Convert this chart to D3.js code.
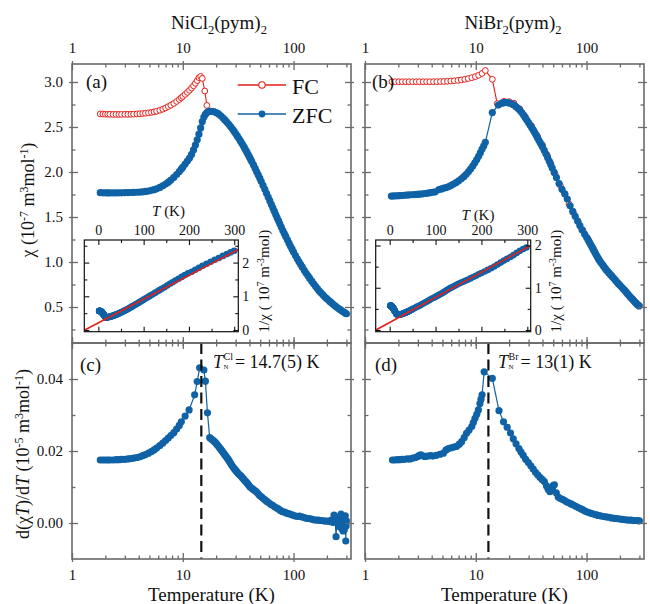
<!DOCTYPE html>
<html>
<head>
<meta charset="utf-8">
<script src="https://cdn.jsdelivr.net/npm/d3@7"></script>
<style>
  body { margin: 0; background: #fff; }
  text { font-family: "Liberation Serif", "Times New Roman", serif; fill: #111; }
</style>
</head>
<body>
<script>
// ---------- NiCl2(pym)2 : susceptibility (10^-7 m^3/mol) ----------
const tempZfcCl = [1.8,1.9,2.0,2.1,2.2,2.35,2.5,2.65,2.8,3.0,3.2,3.4,3.6,3.85,4.1,4.35,4.6,4.9,5.2,5.5,5.8,6.2,6.6,7.0,7.4,7.8,8.3,8.8,9.3,9.7,
  10.0,10.5,11.0,11.5,12.0,12.5,13.0,13.5,14.0,14.5,15.0,15.5,16.0,16.5,17.0,17.5,18.0,
  19,20,21,22,23,24,25,26,27,28,29,30,31,32,33,34,35,36,37,38,39,40,41,42,43.5,45,46.5,48,49.5,51,
  53,55,57,59,61,63,65,67,69,71,73,75,77.5,80,82.5,85,88,91,94,97,100,104,108,112,116,120,125,130,135,140,
  146,152,158,164,170,177,184,191,198,206,214,222,230,239,248,257,266,275,284,292,300];
const chiZfcCl = [1.770,1.769,1.769,1.768,1.768,1.768,1.768,1.769,1.769,1.770,1.771,1.772,1.773,1.775,1.777,1.780,1.784,1.789,1.796,1.804,
  1.814,1.829,1.846,1.866,1.887,1.910,1.940,1.972,2.005,2.032,
  2.054,2.088,2.122,2.155,2.195,2.245,2.300,2.358,2.420,2.490,2.560,2.610,2.640,2.660,2.670,2.675,2.675,
  2.670,2.660,2.645,2.625,2.602,2.579,2.555,2.530,2.505,2.480,2.454,2.428,2.401,2.375,2.348,2.322,2.296,2.270,2.243,2.217,2.191,2.165,2.140,2.115,
  2.077,2.040,2.003,1.967,1.932,1.897,
  1.852,1.807,1.764,1.722,1.681,1.640,1.602,1.565,1.528,1.493,1.460,1.428,1.389,1.350,1.316,1.284,1.246,1.209,1.175,1.142,1.110,
  1.072,1.036,1.003,0.972,0.943,0.908,0.875,0.846,0.818,
  0.787,0.757,0.730,0.705,0.680,0.657,0.635,0.614,0.595,0.578,0.559,0.542,0.525,0.509,0.494,0.480,0.468,0.455,0.444,0.434,0.425];
const tempFcCl = [1.8,1.9,2.0,2.1,2.2,2.35,2.5,2.65,2.8,3.0,3.2,3.4,3.6,3.85,4.1,4.35,4.6,4.9,5.2,5.5,5.8,6.2,6.6,7.0,7.4,7.8,8.3,8.8,9.3,9.7,
  10.0,10.5,11.0,11.5,12.0,12.5,13.0,13.5,14.0,14.5,15.0,15.8,16.5];
const chiFcCl = [2.645,2.644,2.643,2.642,2.641,2.640,2.640,2.640,2.640,2.641,2.641,2.642,2.643,2.645,2.647,2.650,2.653,2.657,2.662,2.668,
  2.675,2.686,2.698,2.712,2.727,2.742,2.762,2.784,2.806,2.825,
  2.840,2.862,2.885,2.908,2.932,2.958,2.986,3.016,3.048,3.062,3.040,2.900,2.740];

// ---------- NiBr2(pym)2 : susceptibility (10^-7 m^3/mol) ----------
const tempZfcBr = [1.73,1.82,1.92,2.02,2.13,2.25,2.38,2.5,2.65,2.8,2.95,3.1,3.3,3.5,3.7,3.9,4.1,4.3,
  4.65,4.9,5.15,5.4,5.7,6.0,6.3,6.65,7.0,7.4,7.8,8.2,8.6,9.0,9.4,9.8,10.2,10.6,11.0,11.4,11.8,12.2,
  14.1,16.0,17.2,18.0,18.6,19.3,
  20,21,22,23,24,25,26,27,28,29,30,31,32,33,34,35,36,37,38,39,40,
  41.5,43,44.5,46,47.5,49,51,53.5,56.5,60,63.5,67,71,75,79,83,87,91,96,100,
  103,106,109,112,115,118,121,124,127,130,134,138,142,146,150,155,160,165,170,176,182,188,194,200,
  207,214,221,228,235,242,249,256,263,270,277,284,291,298];
const chiZfcBr = [1.733,1.734,1.736,1.737,1.739,1.741,1.743,1.745,1.747,1.749,1.751,1.754,1.757,1.761,1.765,1.770,1.775,1.780,
  1.805,1.812,1.820,1.828,1.838,1.852,1.866,1.883,1.902,1.925,1.948,1.975,2.005,2.035,2.068,2.102,2.138,2.175,2.215,2.255,2.290,2.330,
  2.660,2.744,2.765,2.770,2.772,2.770,
  2.766,2.757,2.745,2.727,2.707,2.685,2.660,2.632,2.603,2.574,2.546,2.519,2.493,2.468,2.440,2.412,2.383,2.355,2.330,2.305,2.280,
  2.240,2.200,2.162,2.122,2.083,2.044,1.995,1.938,1.872,1.808,1.757,1.700,1.625,1.562,1.508,1.455,1.405,1.357,1.310,1.275,
  1.247,1.220,1.193,1.167,1.140,1.115,1.090,1.066,1.043,1.020,0.998,0.977,0.956,0.935,0.915,0.895,0.876,0.858,0.840,0.819,0.798,0.778,0.758,0.741,
  0.722,0.703,0.685,0.665,0.645,0.627,0.609,0.594,0.579,0.564,0.548,0.534,0.522,0.512];
const tempFcBr = [1.75,1.88,2.02,2.17,2.33,2.5,2.69,2.9,3.1,3.35,3.6,3.85,4.15,4.45,4.8,5.15,5.55,5.95,6.4,6.9,7.4,7.95,8.55,9.2,9.9,10.6,11.4,12.2,
  14.1,15.6,18,20,22.1,25,28,32,36,40,44,47.4,52,58,64,69.4,76,84,93,103,115,130,148,170,195,225,260,300];
const chiFcBr = [3.003,3.003,3.003,3.003,3.003,3.003,3.003,3.003,3.003,3.003,3.003,3.003,3.003,3.004,3.005,3.006,3.008,3.011,3.014,3.018,
  3.023,3.030,3.038,3.048,3.060,3.075,3.095,3.128,
  3.030,2.760,2.785,2.782,2.765,2.700,2.615,2.510,2.400,2.300,2.190,2.100,1.980,1.850,1.755,1.645,1.550,1.450,1.350,1.260,1.150,1.030,
  0.930,0.845,0.760,0.675,0.590,0.515];

// ---------- d(chi T)/dT (10^-5 m^3/mol) ----------
const tempDerivCl = [1.8,1.9,2.0,2.1,2.2,2.35,2.5,2.65,2.8,3.0,3.2,3.4,3.6,3.85,4.1,4.35,4.6,4.9,5.2,5.5,5.8,6.2,6.6,7.0,7.4,7.8,8.3,8.8,9.3,9.7,
  10.5,11.4,12.8,13.5,14.2,15.5,16.0,16.7,
  17.5,18,18.5,19,19.5,20,20.5,21,21.5,22,22.5,23,23.5,24,24.6,25.2,25.8,26.4,27,27.6,28.3,29,29.7,30.4,31.2,32,32.8,33.6,34.5,35.4,
  36.3,37.3,38.3,39.4,40.5,41.7,43,44.3,45.7,47.1,48.5,50,51.6,53.3,55.3,57.5,59.8,62.2,64.7,67.3,
  70,73,76,79,82.5,86,90,94,98,103,108,113,119,125,131,138,145,152,160,168,
  177,186,195,205,212,220,226,232,238,242,246,250,255,259,263,268,272,276,280,284,287,290,293,296,298,300];
const derivCl = [0.0175,0.0175,0.0175,0.0175,0.0175,0.0175,0.0176,0.0176,0.0177,0.0177,0.0178,0.0179,0.0180,0.0182,0.0184,0.0187,0.0190,0.0194,0.0198,0.0203,
  0.0208,0.0215,0.0222,0.0229,0.0236,0.0243,0.0251,0.0261,0.0271,0.0281,
  0.0297,0.0314,0.0356,0.0393,0.0431,0.0425,0.0394,0.0306,
  0.0237,0.0234,0.0231,0.0228,0.0225,0.0221,0.0217,0.0213,0.0209,0.0205,0.0201,0.0197,0.0193,0.0189,0.0185,0.0180,0.0176,0.0171,0.0166,0.0161,
  0.0156,0.0152,0.0148,0.0144,0.0140,0.0136,0.0133,0.0130,0.0126,0.0122,0.0118,0.0114,0.0110,0.0105,0.0100,0.0097,0.0094,0.0091,0.0088,0.0084,
  0.0079,0.0075,0.0072,0.0068,0.0064,0.0060,0.0056,0.0052,0.0049,0.0045,0.0042,0.0039,0.0035,0.0032,0.0030,0.0028,0.0026,0.0024,0.0022,0.0020,
  0.0018,0.0019,0.0017,0.0015,0.0013,0.0012,0.0011,0.0009,0.0008,0.0008,
  0.0007,0.0006,0.0005,0.0005,0.0004,0.0008,0.0002,0.0022,0.0003,-0.0038,0.0012,0.0000,0.0016,-0.0010,0.0003,0.0025,-0.0015,0.0004,-0.0022,0.0010,
  -0.0019,0.0002,0.0020,-0.0050,-0.0008,0.0006];
const tempDerivBr = [1.77,1.85,1.95,2.05,2.15,2.25,2.4,2.55,2.7,2.85,3.0,3.1,3.2,3.35,3.5,3.7,3.9,4.1,4.4,4.75,
  5.1,5.4,5.65,6.0,6.35,6.72,7.1,7.45,7.85,8.25,8.7,9.2,9.5,9.84,10.2,10.55,10.9,11.15,11.4,11.9,
  14.1,16.2,17.8,19.2,20.6,21.8,23.1,24.5,25.6,26.8,28.2,29.8,31.4,33,34.6,36.2,37.9,39.7,41.6,43.5,
  45,46.7,48.5,50,51.2,53.3,55.5,58,60.5,63,66,69,72.5,76,80,84,88,92,96,100,
  105,110,115,121,127,134,142,150,159,168,178,189,200,212,225,238,252,266,280,292,300];
const derivBr = [0.0175,0.0175,0.0176,0.0176,0.0177,0.0177,0.0178,0.0178,0.0180,0.0182,0.0185,0.0188,0.0189,0.0186,0.0185,0.0186,0.0187,0.0186,0.0188,0.0191,
  0.0194,0.0203,0.0207,0.0209,0.0211,0.0213,0.0219,0.0226,0.0237,0.0249,0.0258,0.0268,0.0279,0.0291,0.0302,0.0314,0.0332,0.0344,0.0356,0.0420,
  0.0402,0.0312,0.0281,0.0266,0.0250,0.0234,0.0220,0.0207,0.0197,0.0188,0.0177,0.0168,0.0159,0.0150,0.0141,0.0134,0.0127,0.0121,0.0115,0.0103,
  0.0094,0.0087,0.0095,0.0104,0.0106,0.0084,0.0072,0.0068,0.0066,0.0063,0.0059,0.0056,0.0053,0.0050,0.0046,0.0043,0.0040,0.0037,0.0034,0.0031,
  0.0029,0.0027,0.0025,0.0023,0.0021,0.0020,0.0018,0.0017,0.0016,0.0014,0.0013,0.0012,0.0011,0.0010,0.0009,0.0008,0.0008,0.0007,0.0007,0.0006,0.0006];

// Neel temperatures (K) and Curie-Weiss fits of 1/chi: [C, theta]
const neelCl = 14.7, neelBr = 13;
const curieCl = [142, -30];
const curieBr = [168.5, -30];

// ticks
const tempTicks = [1, 10, 100];
const tempMinor = [2,3,4,5,6,7,8,9,20,30,40,50,60,70,80,90,200,300];
const chiTicks = [0.5, 1.0, 1.5, 2.0, 2.5, 3.0];
const chiMinor = [0.25, 0.75, 1.25, 1.75, 2.25, 2.75];
const derivTicks = [0.00, 0.02, 0.04];
const derivMinor = [0.01, 0.03];
const insetTempTicks = [0, 100, 200, 300];
const insetTempMinor = [50, 150, 250];
const insetInvTicks = [0, 1, 2];
const insetInvMinor = [0.5, 1.5, 2.5];

// ---------- drawing ----------
const W = 650, H = 604;
const BLUE = "#0f62a6", RED = "#e3201b", AXIS = "#6a6a6a";
const FONT = '"Liberation Serif", "Times New Roman", serif';

const svg = d3.select("body").append("svg").attr("width", W).attr("height", H);
svg.append("rect").attr("width", W).attr("height", H).attr("fill", "#fff");
const defs = svg.append("defs");

const colL = [72, 351], colR = [365, 644];
const rowTop = [64, 343], rowBot = [343, 559];

const xL = d3.scaleLog().domain([1, 330]).range(colL);
const xR = d3.scaleLog().domain([1, 330]).range(colR);
const yChi = d3.scaleLinear().domain([0.1, 3.2]).range([rowTop[1], rowTop[0]]);
const yDer = d3.scaleLinear().domain([-0.01, 0.05]).range([rowBot[1], rowBot[0]]);

const zip = (a, b) => a.slice(0, Math.min(a.length, b.length)).map((v, i) => [v, b[i]]);

let clipId = 0;
function clipRect(x0, y0, x1, y1) {
  const id = "clip" + (clipId++);
  defs.append("clipPath").attr("id", id).append("rect")
    .attr("x", x0).attr("y", y0).attr("width", x1 - x0).attr("height", y1 - y0);
  return `url(#${id})`;
}

// text with sup/sub/italic runs
function rich(sel, parts, fs) {
  let cur = 0;
  for (const [t, k] of parts) {
    const ts = sel.append("tspan").text(t);
    let off = 0;
    if (k === "sup") { off = -0.36 * fs; ts.attr("font-size", 0.66 * fs); }
    else if (k === "sub") { off = 0.24 * fs; ts.attr("font-size", 0.66 * fs); }
    else if (k === "i") ts.attr("font-style", "italic");
    if (off - cur !== 0) ts.attr("dy", off - cur);
    cur = off;
  }
  return sel;
}

// one side of a frame: minor + major ticks pointing inward, optional labels
function side(g, gen, scale, tx, ty, majors, minors, o) {
  const inDom = v => { const d = scale.domain(); return v >= Math.min(...d) && v <= Math.max(...d); };
  const mk = () => g.append("g").attr("transform", `translate(${tx},${ty})`);
  const gm = mk().call(gen(scale).tickValues(minors.filter(inDom)).tickSizeInner(-o.minor).tickSizeOuter(0).tickFormat(""));
  const parts = [gm];
  if (o.out) {
    parts.push(mk().call(gen(scale).tickValues(majors.filter(inDom)).tickSizeInner(o.out).tickSizeOuter(0).tickFormat("")));
  }
  const gM = mk().call(gen(scale).tickValues(majors.filter(inDom)).tickSizeInner(-o.major).tickSizeOuter(0)
    .tickPadding(o.pad || 4).tickFormat(o.fmt ? o.fmt : ""));
  parts.push(gM);
  parts.forEach(p => {
    p.select(".domain").remove();
    p.selectAll("line").attr("stroke", o.color).attr("stroke-width", o.width);
    p.attr("font-family", FONT).attr("font-size", o.fs || 15);
  });
  gM.selectAll("text").attr("fill", "#111");
}

function frame(g, x, y, cfg) {
  const [x0, x1] = x.range(), [y1, y0] = y.range();
  const o = { color: cfg.color, width: cfg.width, major: cfg.major, minor: cfg.minor, out: cfg.out, fs: cfg.fs };
  side(g, d3.axisTop, x, 0, y0, cfg.xMajor, cfg.xMinor, { ...o, fmt: cfg.topFmt, pad: cfg.topPad });
  side(g, d3.axisBottom, x, 0, y1, cfg.xMajor, cfg.xMinor, { ...o, fmt: cfg.bottomFmt, pad: cfg.bottomPad });
  side(g, d3.axisLeft, y, x0, 0, cfg.yMajor, cfg.yMinor, { ...o, fmt: cfg.leftFmt, pad: cfg.leftPad });
  side(g, d3.axisRight, y, x1, 0, cfg.yMajor, cfg.yMinor, { ...o, fmt: cfg.rightFmt, pad: cfg.rightPad });
  g.append("rect").attr("x", x0).attr("y", y0).attr("width", x1 - x0).attr("height", y1 - y0)
    .attr("fill", "none").attr("stroke", cfg.color).attr("stroke-width", cfg.frameWidth || cfg.width);
}

function series(g, x, y, pts, st) {
  g.append("path").datum(pts)
    .attr("d", d3.line().x(d => x(d[0])).y(d => y(d[1])))
    .attr("fill", "none").attr("stroke", st.color).attr("stroke-width", st.lw || 1.2);
  g.selectAll(null).data(pts).enter().append("circle")
    .attr("cx", d => x(d[0])).attr("cy", d => y(d[1])).attr("r", st.r)
    .attr("fill", st.open ? "#fff" : st.color)
    .attr("stroke", st.open ? st.color : "none").attr("stroke-width", st.open ? 1 : 0);
}

const fmtInt = d3.format("d");
const mainAxisCfg = { color: AXIS, width: 1.3, frameWidth: 1.6, major: 6, minor: 3.5, out: 3, fs: 15 };

// ---- top row: chi(T) ----
function chiPanel(x, zfc, fc, letter, letterX, showLeft) {
  const g = svg.append("g");
  const data = g.append("g").attr("clip-path", clipRect(x.range()[0], rowTop[0], x.range()[1], rowTop[1]));
  series(data, x, yChi, fc, { color: RED, r: 2.9, open: true, lw: 1.1 });
  series(data, x, yChi, zfc, { color: BLUE, r: 3.6, lw: 1.2 });
  frame(g, x, yChi, {
    ...mainAxisCfg, xMajor: tempTicks, xMinor: tempMinor, yMajor: chiTicks, yMinor: chiMinor,
    topFmt: fmtInt, topPad: 11, leftFmt: showLeft ? d3.format(".1f") : null, leftPad: 9
  });
  g.append("text").attr("x", letterX).attr("y", 88).attr("font-size", 19).text(letter);
  return g;
}
chiPanel(xL, zip(tempZfcCl, chiZfcCl), zip(tempFcCl, chiFcCl), "(a)", 86, true);
chiPanel(xR, zip(tempZfcBr, chiZfcBr), zip(tempFcBr, chiFcBr), "(b)", 372, false);

// ---- bottom row: d(chi T)/dT ----
function derivPanel(x, pts, tn, letter, letterX, showLeft, supTxt, unc, labelX) {
  const g = svg.append("g");
  const data = g.append("g").attr("clip-path", clipRect(x.range()[0], rowBot[0], x.range()[1], rowBot[1]));
  series(data, x, yDer, pts, { color: BLUE, r: 3.6, lw: 1.2 });
  g.append("line").attr("x1", x(tn)).attr("x2", x(tn)).attr("y1", rowBot[0]).attr("y2", rowBot[1])
    .attr("stroke", "#111").attr("stroke-width", 2.2).attr("stroke-dasharray", "11,5.5");
  frame(g, x, yDer, {
    ...mainAxisCfg, xMajor: tempTicks, xMinor: tempMinor, yMajor: derivTicks, yMinor: derivMinor,
    bottomFmt: fmtInt, bottomPad: 10, leftFmt: showLeft ? d3.format(".2f") : null, leftPad: 9
  });
  g.append("text").attr("x", letterX).attr("y", 371).attr("font-size", 19).text(letter);
  // T_N label
  const base = 368;
  const tt = g.append("text").attr("x", labelX).attr("y", base).attr("font-size", 18).attr("font-style", "italic").text("T");
  const wT = tt.node().getComputedTextLength();
  const s1 = g.append("text").attr("x", labelX + wT + 0.5).attr("y", base - 8).attr("font-size", 10).text(supTxt);
  const s2 = g.append("text").attr("x", labelX + wT + 0.5).attr("y", base + 1).attr("font-size", 7).text("N");
  const ws = Math.max(s1.node().getComputedTextLength(), s2.node().getComputedTextLength());
  g.append("text").attr("x", labelX + wT + ws + 2.5).attr("y", base).attr("font-size", 18).text(`= ${tn}${unc} K`);
}
derivPanel(xL, zip(tempDerivCl, derivCl), neelCl, "(c)", 80, true, "Cl", "(5)", 213);
derivPanel(xR, zip(tempDerivBr, derivBr), neelBr, "(d)", 375, false, "Br", "(1)", 498);

// ---- insets: 1/chi vs T with Curie-Weiss line ----
function inset(xr, xd, yd, T, chi, fit, tLabelX, tLabelY, rightLabelX) {
  const g = svg.append("g");
  const yr = [331.7, 240];
  const x = d3.scaleLinear().domain(xd).range(xr);
  const y = d3.scaleLinear().domain(yd).range(yr);
  g.append("rect").attr("x", xr[0]).attr("y", yr[1]).attr("width", xr[1] - xr[0]).attr("height", yr[0] - yr[1]).attr("fill", "#fff");
  const data = g.append("g").attr("clip-path", clipRect(xr[0], yr[1], xr[1], yr[0]));
  const inv = zip(T, chi.map(c => 1 / c));
  data.selectAll(null).data(inv).enter().append("circle")
    .attr("cx", d => x(d[0])).attr("cy", d => y(d[1])).attr("r", 3.3).attr("fill", BLUE);
  const [C, theta] = fit;
  const fitEnds = [theta, xd[1]].map(t => [t, (t - theta) / C]);
  data.append("path").datum(fitEnds).attr("d", d3.line().x(d => x(d[0])).y(d => y(d[1])))
    .attr("stroke", RED).attr("stroke-width", 1.6).attr("fill", "none");
  frame(g, x, y, {
    color: "#111", width: 1.1, frameWidth: 1.2, major: 5, minor: 3, out: 0, fs: 14,
    xMajor: insetTempTicks, xMinor: insetTempMinor, yMajor: insetInvTicks, yMinor: insetInvMinor,
    topFmt: fmtInt, topPad: 5, rightFmt: fmtInt, rightPad: 4
  });
  rich(g.append("text").attr("x", tLabelX).attr("y", tLabelY).attr("font-size", 15).attr("text-anchor", "middle"),
    [["T", "i"], [" (K)", ""]], 15);
  rich(g.append("text").attr("transform", `translate(${rightLabelX},281) rotate(-90)`).attr("font-size", 15).attr("text-anchor", "middle"),
    [["1/χ ( 10", ""], ["7", "sup"], [" m", ""], ["-3", "sup"], ["mol)", ""]], 15);
}
inset([84.3, 238.3], [-31, 309], [-0.05, 2.67], tempZfcCl, chiZfcCl, curieCl, 168.5, 216, 269);
inset([375.7, 530.7], [-30.5, 307.4], [-0.04, 2.13], tempZfcBr, chiZfcBr, curieBr, 478, 220, 561);

// ---- legend in (a) ----
const lg = svg.append("g");
[[85, RED, true, "FC", 94], [114, BLUE, false, "ZFC", 123]].forEach(([ly, col, open, lab, by]) => {
  lg.append("line").attr("x1", 237.7).attr("x2", 286).attr("y1", ly).attr("y2", ly).attr("stroke", col).attr("stroke-width", 1.4);
  lg.append("circle").attr("cx", 262).attr("cy", ly).attr("r", open ? 3.2 : 3.4)
    .attr("fill", open ? "#fff" : col).attr("stroke", open ? col : "none").attr("stroke-width", 1.1);
  lg.append("text").attr("x", 292).attr("y", by).attr("font-size", 22).text(lab);
});

// ---- titles and axis labels ----
rich(svg.append("text").attr("x", 219).attr("y", 29).attr("font-size", 19).attr("text-anchor", "middle"),
  [["NiCl", ""], ["2", "sub"], ["(pym)", ""], ["2", "sub"]], 19);
rich(svg.append("text").attr("x", 513).attr("y", 29).attr("font-size", 19).attr("text-anchor", "middle"),
  [["NiBr", ""], ["2", "sub"], ["(pym)", ""], ["2", "sub"]], 19);

[211.5, 504.5].forEach(cx => {
  svg.append("text").attr("x", cx).attr("y", 601).attr("font-size", 19).attr("text-anchor", "middle").text("Temperature (K)");
});

rich(svg.append("text").attr("transform", "translate(34,200) rotate(-90)").attr("font-size", 18).attr("text-anchor", "middle"),
  [["χ (10", ""], ["-7", "sup"], [" m", ""], ["3", "sup"], ["mol", ""], ["-1", "sup"], [")", ""]], 18);
rich(svg.append("text").attr("transform", "translate(29,454) rotate(-90)").attr("font-size", 18).attr("text-anchor", "middle"),
  [["d(χ", ""], ["T", "i"], [")/d", ""], ["T", "i"], [" (10", ""], ["-5", "sup"], [" m", ""], ["3", "sup"], ["mol", ""], ["-1", "sup"], [")", ""]], 18);
</script>
</body>
</html>
